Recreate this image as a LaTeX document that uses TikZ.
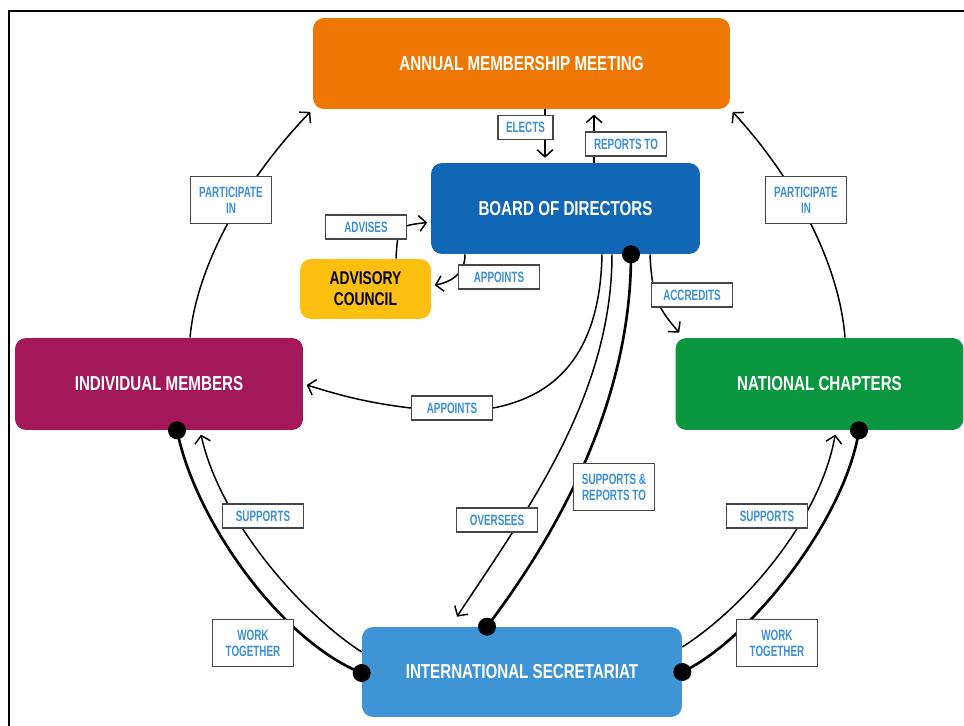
\documentclass[tikz,border=0pt]{standalone}
\usepackage{fontspec}
\setmainfont{Liberation Sans}
\newfontfamily\titlefont{Liberation Sans}[FakeStretch=0.75]
\newfontfamily\tagfont{Liberation Sans}[FakeStretch=0.66]
\usetikzlibrary{arrows.meta, backgrounds, calc}

\definecolor{meetorange}{RGB}{238,118,2}
\definecolor{boardblue}{RGB}{17,103,181}
\definecolor{advyellow}{RGB}{253,192,16}
\definecolor{memberred}{RGB}{163,24,90}
\definecolor{chaptgreen}{RGB}{11,150,64}
\definecolor{secblue}{RGB}{62,148,212}
\definecolor{tagblue}{RGB}{58,143,214}
\definecolor{taggray}{RGB}{70,70,70}

\begin{document}
\begin{tikzpicture}[x=0.02cm, y=0.02cm,
	body/.style={rounded corners=0.22cm, text=white, minimum height=1.82cm,
		font=\titlefont\bfseries\fontsize{11.5}{13}\selectfont},
	tag/.style={draw=taggray, fill=white, line width=0.8pt, text=tagblue, align=center,
		minimum width=1.62cm, minimum height=0.48cm, inner sep=1pt,
		font=\tagfont\bfseries\fontsize{8.5}{9}\selectfont},
	tagtwo/.style={tag, minimum height=0.94cm},
	link/.style={line width=0.85pt, -{Straight Barb[length=4pt, width=9pt]}},
	bond/.style={line width=1.5pt}]
	\useasboundingbox (0,0) rectangle (964,-726);
	\draw[line width=1.1pt] (9,-726) -- (9,-11) -- (964,-11);
	
	% the six bodies
	\node[body, fill=meetorange, minimum width=8.34cm] (amm) at (521.5,-63.5) {ANNUAL MEMBERSHIP MEETING};
	\node[body, fill=boardblue, minimum width=5.38cm] (bod) at (565.5,-208.5) {BOARD OF DIRECTORS};
	\node[body, fill=advyellow, text=black, minimum width=2.62cm, minimum height=1.2cm, align=center,
		font=\titlefont\bfseries\fontsize{10.5}{12}\selectfont] (ac) at (365.5,-289) {ADVISORY\\COUNCIL};
	\node[body, fill=memberred, minimum width=5.76cm, minimum height=1.84cm] (im) at (159,-384) {INDIVIDUAL MEMBERS};
	\node[body, fill=chaptgreen, minimum width=5.76cm, minimum height=1.84cm] (nc) at (819.5,-384) {NATIONAL CHAPTERS};
	\node[body, fill=secblue, minimum width=6.4cm, minimum height=1.8cm] (is) at (522,-672) {INTERNATIONAL SECRETARIAT};
	
	% labels
	\node[tag, minimum width=1.1cm] (elects) at (525.5,-127.5) {ELECTS};
	\node[tag] (reports) at (626,-144) {REPORTS TO};
	\node[tag] (advises) at (366,-227) {ADVISES};
	\node[tag] (appac) at (499,-277) {APPOINTS};
	\node[tag] (accr) at (692,-295) {ACCREDITS};
	\node[tagtwo] (partl) at (231,-200) {PARTICIPATE\\IN};
	\node[tagtwo] (partr) at (806,-200) {PARTICIPATE\\IN};
	\node[tag] (appim) at (452,-408) {APPOINTS};
	\node[tag] (over) at (497,-520) {OVERSEES};
	\node[tagtwo] (suprep) at (614,-487) {SUPPORTS \&\\REPORTS TO};
	\node[tag] (supl) at (263,-516) {SUPPORTS};
	\node[tag] (supr) at (767,-516) {SUPPORTS};
	\node[tagtwo] (workl) at (253,-643) {WORK\\TOGETHER};
	\node[tagtwo] (workr) at (777,-643) {WORK\\TOGETHER};
	
	\coordinate (dotbod) at (bod.south -| 631,0);
	\coordinate (dotist) at (is.north -| 487,0);
	\coordinate (dotisl) at (is.west |- 0,-673);
	\coordinate (dotisr) at (is.east |- 0,-672);
	\coordinate (dotim) at (im.south -| 177,0);
	\coordinate (dotnc) at (nc.south -| 859,0);
	
	\begin{scope}[on background layer]
		\draw[link, shorten >=2.8pt] (amm.south -| 545,0) -- (bod.north -| 545,0);
		\draw[link, shorten >=3pt] (bod.north -| 594,0) -- (amm.south -| 594,0);
		\draw[link, shorten >=2pt] (ac.north -| 396,0) .. controls (398,-226) .. (bod.west |- 0,-222);
		\draw[link, shorten >=2pt] (bod.south -| 465,0) .. controls (465,-275) and (450,-282) .. (ac.east |- 0,-286);
		\draw[link] (bod.south -| 650,0) .. controls (652,-300) and (660,-310) .. ($(nc.north west)+(4,5)$);
		\draw[link, shorten >=2pt] (bod.south -| 602,0) .. controls (600,-365) and (545,-398) .. (appim.east)
			-- (appim.west) .. controls (360,-402) and (330,-392) .. (im.east |- 0,-384);
		\draw[link] (bod.south -| 612,0) .. controls (612,-400) and (520,-520) .. ($(is.north)+(-65,10)$);
		\draw[bond] (dotbod) .. controls (631,-400) and (560,-530) .. (dotist);
		\draw[link, shorten >=2.5pt] (is.west |- 0,-652) .. controls (300,-612) and (220,-520) .. (im.south -| 200,0);
		\draw[bond] (dotisl) .. controls (280,-640) and (195,-520) .. (dotim);
		\draw[link, shorten >=2.5pt] (is.east |- 0,-647) .. controls (745,-607) and (820,-520) .. (nc.south -| 836,0);
		\draw[bond] (dotisr) .. controls (750,-640) and (845,-520) .. (dotnc);
		\draw[link, shorten >=2pt] (im.north -| 190,0) .. controls (196,-270) and (240,-185) .. (amm.south west);
		\draw[link, shorten >=2pt] (nc.north -| 845,0) .. controls (840,-270) and (800,-185) .. (amm.south east);
	\end{scope}
	
	\foreach \p in {dotbod, dotist, dotisl, dotisr, dotim, dotnc}
		\fill (\p) circle[radius=0.18cm];
\end{tikzpicture}
\end{document}
